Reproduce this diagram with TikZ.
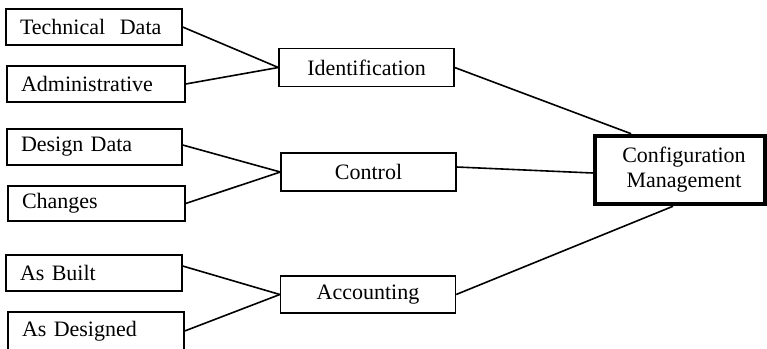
\documentclass[tikz,border=0pt]{standalone}
\usepackage{fontspec}
\setmainfont{Liberation Serif}
\usetikzlibrary{calc}
\begin{document}
\begin{tikzpicture}[x=1pt,y=-1pt,
  every node/.style={font=\fontsize{22}{25}\selectfont},
  leaf/.style={draw, line width=1.3pt, inner xsep=14pt, inner ysep=0pt,
    align=left, minimum height=36pt},
  mid/.style={draw, line width=1.3pt, minimum width=175pt,
    minimum height=38pt, inner sep=0pt},
  hub/.style={draw, line width=4.5pt, minimum width=170pt,
    minimum height=68pt, inner sep=0pt, align=center},
  link/.style={line width=1.6pt}]
\useasboundingbox (0,0) rectangle (767,348);
\clip (0,0) rectangle (767,348);

% sources
\node[leaf, text width=148pt] (tech) at (94,27) {Technical\ \ Data};
\node[leaf, text width=150pt] (admin) at (96,84) {Administrative};
\node[leaf, text width=147pt] (design) at (94.5,147) {Design Data};
\node[leaf, text width=149pt, minimum height=35pt] (changes) at (96.5,203.5) {Changes};
\node[leaf, text width=148pt] (built) at (94,273) {As Built};
\node[leaf, text width=148pt, minimum height=38pt] (designed) at (96,331) {As Designed};

% activities
\node[mid] (ident) at (366.5,67.5) {Identification};
\node[mid] (control) at (368.5,172) {Control};
\node[mid, minimum height=37pt] (acct) at (368,294.5) {Accounting};

% hub
\node[hub] (cm) at (680,170) {\hspace{8pt}Configuration\\\hspace{8pt}Management};

% links
\draw[link] (tech.east) -- (ident.west);
\draw[link] (admin.east) -- (ident.west);
\draw[link] ([yshift=2pt]design.east) -- (control.west);
\draw[link] (changes.east) -- (control.west);
\draw[link] ([yshift=7pt]built.east) -- (acct.west);
\draw[link] (designed.east) -- (acct.west);
\draw[link] (ident.east) -- ($(cm.north west)!0.22!(cm.north east)$);
\draw[link] ([yshift=5pt]control.east) -- ([yshift=-3pt]cm.west);
\draw[link] (acct.east) -- ($(cm.south west)!0.46!(cm.south east)$);
\end{tikzpicture}
\end{document}
